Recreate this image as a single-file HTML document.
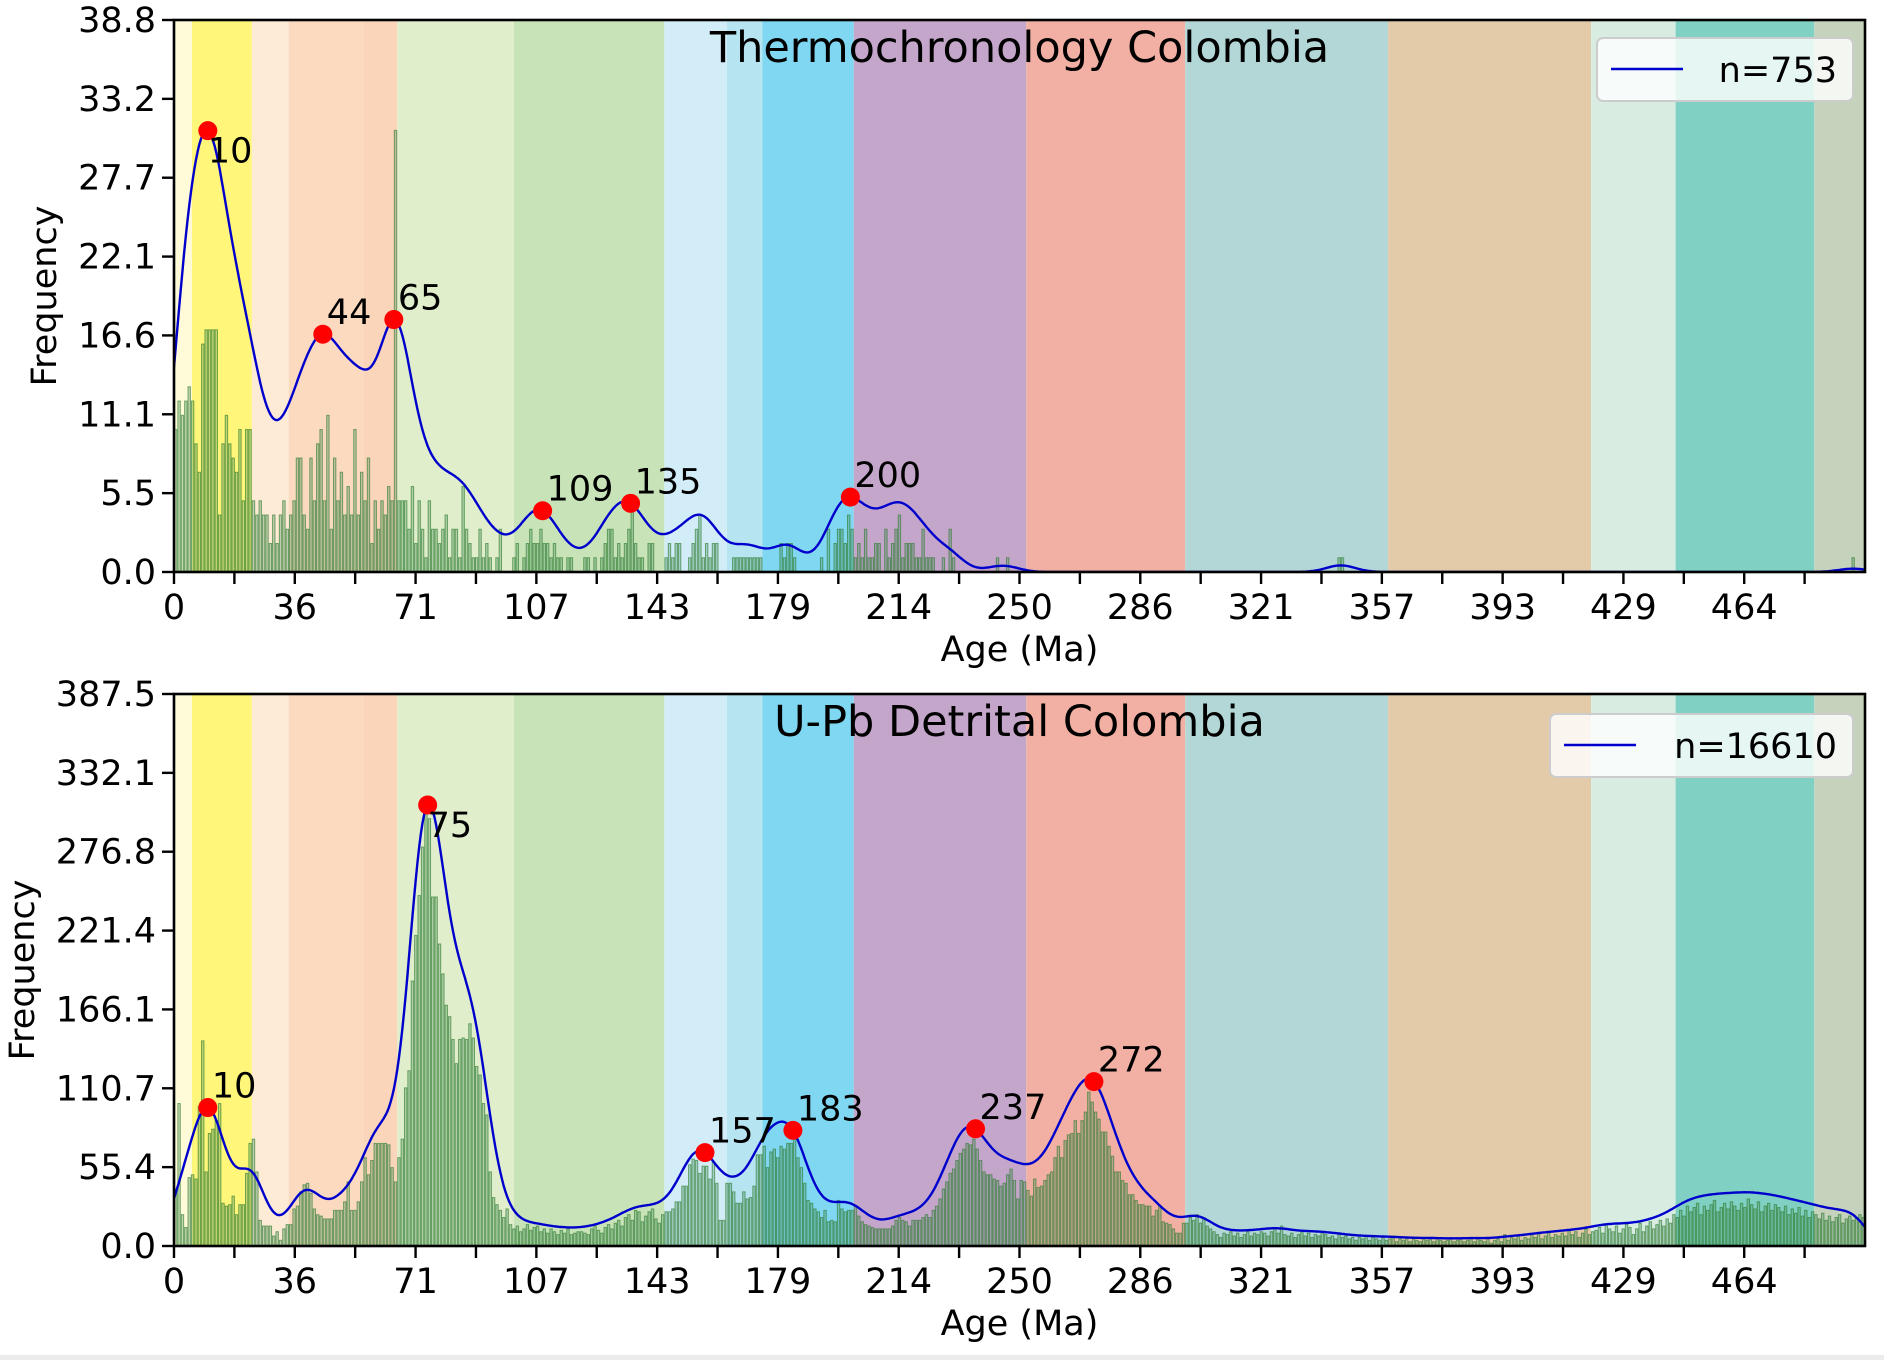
<!DOCTYPE html>
<html><head><meta charset="utf-8"><style>
html,body{margin:0;padding:0;background:#fff;}
svg{display:block;font-family:"DejaVu Sans","Liberation Sans",sans-serif;}
</style></head><body>
<svg id="fig" width="1884" height="1360" viewBox="0 0 1884 1360" xmlns="http://www.w3.org/2000/svg">
<rect x="0" y="1355" width="1884" height="5" fill="#ececec"/>
</svg>
<script>
// ---- data ----
const bandEdges = [0,5.33,23.03,33.9,56,66,100.5,145,163.5,174,201,252,299,359,419,444,485,500];
const bandColors = ["#fffad8","#fff67a","#fdebd5","#fbdac0","#fad5ba","#e0eecb","#c9e3b9","#d2edf8","#b6e4f1","#80d7f1","#c5a6cb","#f1b0a3","#b3d6d7","#e3cbaa","#d8ece2","#80d1c3","#c5d2bc"];
const xTickLabels = ["0","36","71","107","143","179","214","250","286","321","357","393","429","464"];
const xMax = 500;

const thermoCounts = [
10,12,11,12,13,12,9,7,16,17, 17,17,17,4,9,11,9,8,7,10, 5,10,10,5,4,5,4,4,2,4, 2,4,5,3,4,5,8,8,4,3,
8,5,9,10,5,11,3,8,5,7, 4,6,4,10,4,7,5,8,2,5, 3,5,4,6,5,31,5,5,5,3, 6,2,5,3,1,5,3,3,2,3,
4,1,3,3,1,6,3,2,1,1, 3,1,2,1,0,1,3,0,0,0, 1,2,0,1,2,3,2,2,3,2, 2,1,2,1,1,0,1,1,0,0,
0,1,1,0,1,0,1,2,3,3, 1,2,1,2,3,5,2,1,1,0, 2,2,0,0,0,1,2,1,2,2, 0,0,1,2,3,4,1,2,1,2,
2,0,0,0,0,1,1,1,1,1, 1,1,1,1,0,0,0,0,0,2, 1,2,2,1,0,0,0,0,0,0, 0,1,0,3,0,2,3,3,2,4,
3,1,2,1,3,1,1,2,2,0, 3,1,2,3,4,1,2,2,2,1, 1,3,1,1,1,0,0,1,0,3, 1,0,0,0,0,0,0,0,0,0,
0,0,0,1,0,0,1,0,0,0, 0,0,0,0,0,0,0,0,0,0, 0,0,0,0,0,0,0,0,0,0, 0,0,0,0,0,0,0,0,0,0,
0,0,0,0,0,0,0,0,0,0, 0,0,0,0,0,0,0,0,0,0, 0,0,0,0,0,0,0,0,0,0, 0,0,0,0,0,0,0,0,0,0,
0,0,0,0,0,0,0,0,0,0, 0,0,0,0,0,0,0,0,0,0, 0,0,0,0,1,1,0,0,0,0, 0,0,0,0,0,0,0,0,0,0,
0,0,0,0,0,0,0,0,0,0, 0,0,0,0,0,0,0,0,0,0, 0,0,0,0,0,0,0,0,0,0, 0,0,0,0,0,0,0,0,0,0,
0,0,0,0,0,0,0,0,0,0, 0,0,0,0,0,0,0,0,0,0, 0,0,0,0,0,0,0,0,0,0, 0,0,0,0,0,0,0,0,0,0,
0,0,0,0,0,0,0,0,0,0, 0,0,0,0,0,0,0,0,0,0, 0,0,0,0,0,0,0,0,0,0, 0,0,0,0,0,0,0,0,0,0,
0,0,0,0,0,0,0,0,0,0, 0,0,0,0,0,0,1,0,0,0];
const thermoPeaks = [10,44,65,109,135,200];

const upbCounts = [
40,100,22,13,48,50,47,98,144,52, 79,82,88,100,30,28,29,35,22,29, 29,51,72,75,52,18,14,14,14,7, 10,4,12,15,15,26,28,38,43,44,
37,26,22,21,19,19,19,25,25,25, 31,45,25,25,31,45,62,50,60,72, 72,72,72,71,55,45,62,75,111,123, 186,218,246,280,310,300,245,245,212,191,
169,161,145,128,145,146,145,156,146,126, 120,100,92,52,34,29,25,20,26,15, 12,14,10,12,15,11,13,14,10,12, 9,12,10,8,11,9,12,8,9,10,
10,9,8,12,14,11,9,13,15,12, 16,18,14,20,22,18,25,24,17,21, 24,26,19,16,22,24,24,26,31,31, 42,42,57,61,60,51,56,56,47,59,
44,18,18,44,44,38,30,30,38,33, 34,42,64,64,70,55,66,68,62,70, 68,72,72,80,62,55,44,32,30,26, 24,20,25,17,18,17,32,26,24,25,
25,28,21,17,15,14,13,12,12,12, 12,12,14,18,20,18,17,14,18,18, 18,20,22,20,25,28,33,40,45,51, 54,60,65,68,72,71,75,68,60,52,
50,50,47,46,42,44,50,54,46,33, 46,45,39,35,47,41,42,46,50,52, 62,70,62,74,78,79,88,79,88,94, 108,101,94,89,80,80,70,63,52,52,
46,44,36,36,32,29,29,28,28,21, 25,28,17,16,15,12,9,9,16,16, 20,18,22,16,19,14,12,10,8,6, 9,8,10,7,9,6,8,10,7,9,
8,10,9,7,10,12,9,14,8,7, 9,6,8,10,7,9,6,8,7,10, 8,6,7,5,9,6,7,5,6,4, 6,5,7,4,6,5,4,6,4,5,
7,3,5,4,6,3,5,4,3,5, 4,6,3,5,4,3,4,5,3,4, 5,3,4,6,3,5,4,3,6,2, 4,5,3,8,4,6,5,7,4,6,
5,8,6,9,5,7,10,6,8,7, 9,7,11,8,10,6,9,12,8,10, 11,13,9,15,12,10,14,9,12,15, 13,8,12,16,10,14,17,12,15,18,
14,19,16,22,20,25,21,28,24,27, 30,22,28,25,29,32,24,27,30,26, 31,28,25,30,27,33,29,26,31,24, 28,30,25,29,27,24,28,22,26,23,
27,21,25,20,24,22,19,23,18,21, 17,20,22,16,19,21,18,20,22,20];
const upbPeaks = [10,75,157,183,237,272];

// ---- drawing ----
const NS = "http://www.w3.org/2000/svg";
const svg = document.getElementById("fig");
function mk(tag, attrs, parent){ const e=document.createElementNS(NS,tag); for(const k in attrs) e.setAttribute(k,attrs[k]); (parent||svg).appendChild(e); return e; }

function kde(counts, sigma){
  const out=[];
  for(let i=0;i<=1000;i++){
    const x=i*0.5; let s=0;
    for(let k=0;k<counts.length;k++){ if(!counts[k]) continue; const d=(x-(k+0.5))/sigma; if(Math.abs(d)<5) s+=counts[k]*Math.exp(-0.5*d*d); }
    out.push(s);
  }
  const m=Math.max(...out), cm=Math.max(...counts);
  return out.map(v=>v/m*cm);
}

function drawPanel(cfg){
  const {L,R,T,B,counts,peaks,sigma,title,legend,ylabelX,legendBox,idp} = cfg;
  const g = mk("g",{});
  
  
  const cmax = Math.max(...counts), yMax = cmax*1.25;
  const X = v => L + (v/xMax)*(R-L);
  const Y = v => B - (v/yMax)*(B-T);
  const clipId = idp+"-clip";
  const cp = mk("clipPath",{id:clipId},g); mk("rect",{x:L,y:T,width:R-L,height:B-T},cp);
  const plot = mk("g",{"clip-path":"url(#"+clipId+")"},g);
  for(let i=0;i<bandColors.length;i++){
    const r=mk("rect",{x:X(bandEdges[i]),y:T,width:X(bandEdges[i+1])-X(bandEdges[i]),height:B-T,fill:bandColors[i]},plot);
    
    
  }
  for(let k=0;k<counts.length;k++){
    if(!counts[k]) continue;
    const b=mk("rect",{x:X(k)+0.5,y:Y(counts[k]),width:X(k+1)-X(k)-1,height:B-Y(counts[k]),fill:"rgba(70,140,100,0.32)",stroke:"rgba(45,125,45,0.65)","stroke-width":1.0},plot);
    
    
  }
  const kd = kde(counts, sigma);
  let d="";
  kd.forEach((v,i)=>{ d+=(i?"L":"M")+X(i*0.5).toFixed(1)+","+Y(v).toFixed(1); });
  const line=mk("path",{d:d,fill:"none",stroke:"#0000cc","stroke-width":2.4},plot);
  
  
  const gmax = Math.max(...kd);
  peaks.forEach(p=>{
    const v = kd[Math.round(p*2)];
    const c=mk("circle",{cx:X(p),cy:Y(v),r:9.5,fill:"#ff0000"},g);
    
    
    const below = v>=gmax*0.99;
    const t=mk("text",{x:X(p)+(below?0:4),y:Y(v)+(below?32:-10),"font-size":35,fill:"#000"},g);
    t.textContent=String(p);
    
    
  });
  const fr=mk("rect",{x:L,y:T,width:R-L,height:B-T,fill:"none",stroke:"#000","stroke-width":2.6},g);
  
  
  for(let i=0;i<28;i++){
    const xv=i*xMax/28;
    mk("line",{x1:X(xv),x2:X(xv),y1:B,y2:B+12,stroke:"#000","stroke-width":2.4},g);
    if(i%2===0){
      const t=mk("text",{x:X(xv),y:B+47,"font-size":35,"text-anchor":"middle",fill:"#000"},g);
      t.textContent=xTickLabels[i/2];
      
      
    }
  }
  for(let i=0;i<=7;i++){
    const yv=yMax*i/7;
    mk("line",{x1:L-12,x2:L,y1:Y(yv),y2:Y(yv),stroke:"#000","stroke-width":2.4},g);
    const t=mk("text",{x:L-18,y:Y(yv)+12,"font-size":35,"text-anchor":"end",fill:"#000"},g);
    t.textContent=yv.toFixed(1);
    
    
  }
  const xl=mk("text",{x:(L+R)/2,y:B+89,"font-size":35,"text-anchor":"middle",fill:"#000"},g);
  xl.textContent="Age (Ma)";
  
  
  const yl=mk("text",{x:0,y:0,"font-size":35,"text-anchor":"middle",fill:"#000",transform:"translate("+ylabelX+","+((T+B)/2)+") rotate(-90)"},g);
  yl.textContent="Frequency";
  
  
  const tt=mk("text",{x:(L+R)/2,y:T+42,"font-size":43,"text-anchor":"middle",fill:"#000"},g);
  tt.textContent=title;
  
  
  const lg=mk("g",{},g);
  
  
  mk("rect",{x:legendBox[0],y:legendBox[1],width:R-12-legendBox[0],height:63,rx:6,fill:"rgba(255,255,255,0.8)",stroke:"#cccccc","stroke-width":2},lg);
  mk("line",{x1:legendBox[0]+14,x2:legendBox[0]+86,y1:legendBox[1]+31,y2:legendBox[1]+31,stroke:"#0000cc","stroke-width":2.4},lg);
  const lt=mk("text",{x:R-28,y:legendBox[1]+44,"font-size":35,"text-anchor":"end",fill:"#000"},lg);
  lt.textContent=legend;
  
  
}

drawPanel({L:174,R:1865,T:20,B:572,counts:thermoCounts,peaks:thermoPeaks,sigma:4.3,
  title:"Thermochronology Colombia",legend:"n=753",ylabelX:56,legendBox:[1597,38],idp:"thermo"});
drawPanel({L:174,R:1865,T:694,B:1246,counts:upbCounts,peaks:upbPeaks,sigma:3.6,
  title:"U-Pb Detrital Colombia",legend:"n=16610",ylabelX:34,legendBox:[1550,714],idp:"upb"});
</script>
</body></html>
